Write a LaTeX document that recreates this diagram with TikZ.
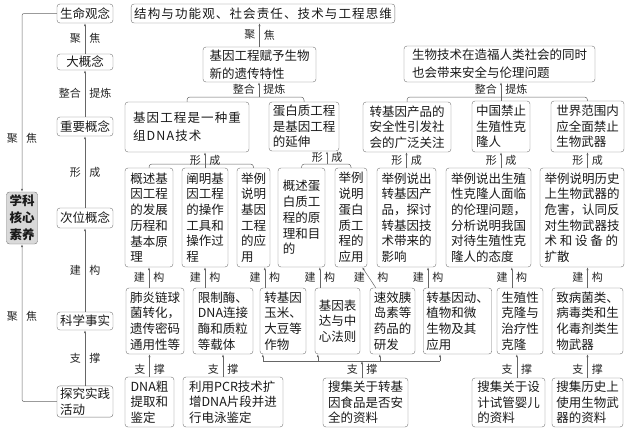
\documentclass[tikz,border=0pt]{standalone}
\usepackage{fontspec}
\setmainfont{Noto Sans CJK SC}
\usetikzlibrary{arrows.meta}

\begin{document}
\begin{tikzpicture}[x=1pt,y=-1pt,
  every node/.style={font=\fontsize{12.5}{15.7}\selectfont},
  box/.style={draw=black!55,rounded corners=3pt,align=left,inner xsep=3pt,inner ysep=2pt,text=black!90},
  big/.style={font=\fontsize{12.5}{18}\selectfont},
  wide/.style={font=\fontsize{12.5}{18}\selectfont\addfontfeature{LetterSpace=9}},
  lnk/.style={draw=black!60,line width=0.5pt},
  arr/.style={lnk,-{Latex[length=3pt,width=2.2pt]}},
  lab/.style={font=\fontsize{11}{11}\selectfont,inner sep=4pt,text=black!85},
]
\useasboundingbox (0,0) rectangle (627,434);

\node[box,minimum width=56pt,minimum height=19pt] (smgn) at (85,13.5) {生命观念};
\node[box,minimum width=56pt,minimum height=16pt] (dgn) at (85,62) {大概念};
\node[box,minimum width=56pt,minimum height=19pt] (zygn) at (85,126.5) {重要概念};
\node[box,minimum width=56pt,minimum height=20pt] (cwgn) at (85,218) {次位概念};
\node[box,minimum width=56pt,minimum height=18pt] (kxss) at (85,321) {科学事实};
\node[box,minimum width=56pt,minimum height=31pt] (tjsj) at (85,401.5) {探究实践\\活动};
\node[box,fill=black!15,minimum width=30pt,minimum height=52pt,align=center,font=\fontsize{12.5}{17}\selectfont\bfseries] (hxsy) at (22,218) {学科\\核心\\素养};

\node[box,wide,minimum width=260pt,minimum height=19pt,align=center] (jggn) at (263,13.5) {结构与功能观、社会责任、技术与工程思维};
\node[box,big,minimum width=113pt,minimum height=35pt] (fysx) at (259.5,64.5) {基因工程赋予生物\\新的遗传特性};
\node[box,big,minimum width=191pt,minimum height=36pt] (aqll) at (499.5,64) {生物技术在造福人类社会的同时\\也会带来安全与伦理问题};

\node[box,wide,minimum width=124pt,minimum height=50pt] (czdna) at (187,127) {基因工程是一种重\\组DNA技术};
\node[box,minimum width=70pt,minimum height=49pt] (dbzgc) at (304,126.5) {蛋白质工程\\是基因工程\\的延伸};
\node[box,minimum width=88pt,minimum height=50pt] (zjyaq) at (407,127) {转基因产品的\\安全性引发社\\会的广泛关注};
\node[box,minimum width=58pt,minimum height=51pt] (zgjz) at (501,126.5) {中国禁止\\生殖性克\\隆人};
\node[box,minimum width=73pt,minimum height=51pt] (sjjz) at (587.5,126.5) {世界范围内\\应全面禁止\\生物武器};

\node[box,minimum width=48pt,minimum height=99pt] (gsjy) at (149,217.5) {概述基\\因工程\\的发展\\历程和\\基本原\\理};
\node[box,minimum width=46pt,minimum height=99pt] (cmjy) at (205,217.5) {阐明基\\因工程\\的操作\\工具和\\操作过\\程};
\node[box,minimum width=33pt,minimum height=99pt] (jlsm) at (253.5,217.5) {举例\\说明\\基因\\工程\\的应\\用};
\node[box,minimum width=47pt,minimum height=99pt] (gsdb) at (301.5,217.5) {概述蛋\\白质工\\程的原\\理和目\\的};
\node[box,minimum width=32pt,minimum height=99pt] (jldb) at (351,217.5) {举例\\说明\\蛋白\\质工\\程的\\应用};
\node[box,minimum width=59pt,minimum height=99pt] (jlzj) at (406.5,217.5) {举例说出\\转基因产\\品，探讨\\转基因技\\术带来的\\影响};
\node[box,minimum width=85pt,minimum height=99pt] (jlsz) at (488.5,217.5) {举例说出生殖\\性克隆人面临\\的伦理问题，\\分析说明我国\\对待生殖性克\\隆人的态度};
\node[box,minimum width=84pt,minimum height=99pt] (jlls) at (582,217.5) {举例说明历史\\上生物武器的\\危害，认同反\\对生物武器技\\术 和 设 备 的\\扩散};

\node[box,minimum width=58pt,minimum height=66pt] (fyls) at (155,321) {肺炎链球\\菌转化，\\遗传密码\\通用性等};
\node[box,minimum width=60pt,minimum height=66pt] (xzm) at (223,321) {限制酶、\\DNA连接\\酶和质粒\\等载体};
\node[box,minimum width=46pt,minimum height=66pt] (zjym) at (283,321) {转基因\\玉米、\\大豆等\\作物};
\node[box,minimum width=45pt,minimum height=66pt] (jbbd) at (337.5,321) {基因表\\达与中\\心法则};
\node[box,minimum width=45pt,minimum height=66pt] (sxyd) at (392.5,321) {速效胰\\岛素等\\药品的\\研发};
\node[box,minimum width=65pt,minimum height=66pt] (zjdz) at (457.5,321) {转基因动、\\植物和微\\生物及其\\应用};
\node[box,minimum width=46pt,minimum height=66pt] (szkl) at (520,321) {生殖性\\克隆与\\治疗性\\克隆};
\node[box,minimum width=71pt,minimum height=66pt] (zbjl) at (587.5,321) {致病菌类、\\病毒类和生\\化毒剂类生\\物武器};

\node[box,minimum width=49pt,minimum height=50pt] (dnacq) at (149.5,402) {DNA粗\\提取和\\鉴定};
\node[box,minimum width=100pt,minimum height=50pt] (pcr) at (233,402) {利用PCR技术扩\\增DNA片段并进\\行电泳鉴定};
\node[box,minimum width=85pt,minimum height=49pt] (sjzj) at (365.5,402.5) {搜集关于转基\\因食品是否安\\全的资料};
\node[box,minimum width=73pt,minimum height=49pt] (sjsg) at (508.5,402.5) {搜集关于设\\计试管婴儿\\的资料};
\node[box,minimum width=71pt,minimum height=49pt] (sjls) at (587.5,402.5) {搜集历史上\\使用生物武\\器的资料};

\draw[arr] (dgn) -- node[lab,left]{聚} node[lab,right]{焦} (smgn);
\draw[arr] (zygn) -- node[lab,left]{整合} node[lab,right]{提炼} (dgn);
\draw[arr] (cwgn) -- node[lab,left]{形} node[lab,right]{成} (zygn);
\draw[arr] (kxss) -- node[lab,left]{建} node[lab,right]{构} (cwgn);
\draw[arr] (tjsj) -- node[lab,left]{支} node[lab,right]{撑} (kxss);
\draw[arr,rounded corners=2pt] (smgn.west) -| node[lab,pos=0.85,left]{聚} node[lab,pos=0.85,right]{焦} (hxsy.north);
\draw[arr,rounded corners=2pt] (tjsj.west) -| node[lab,pos=0.77,left]{聚} node[lab,pos=0.77,right]{焦} (hxsy.south);

\draw[arr] (fysx.north) -- node[lab,left]{聚} node[lab,right]{焦} (fysx.north |- jggn.south);
\coordinate (b1) at (259,97);
\draw[lnk,rounded corners=3pt] (czdna.north) |- (b1) -| (dbzgc.north);
\draw[arr] (b1) -- node[lab,left]{整合} node[lab,right]{提炼} (b1 |- fysx.south);
\draw[lnk,rounded corners=3pt] (zjyaq.north) |- (zgjz.north |- b1) -| (sjjz.north);
\draw[arr] (zgjz.north) -- node[lab,left,pos=0.6]{整合} node[lab,right,pos=0.6]{提炼} (zgjz.north |- aqll.south);

\coordinate (b3) at (205,164);
\draw[lnk,rounded corners=3pt] (gsjy.north) |- (b3) -| (jlsm.north);
\draw[arr] (cmjy.north) -- node[lab,left]{形} node[lab,right]{成} (cmjy.north |- czdna.south);
\coordinate (b4) at (327,164);
\draw[lnk,rounded corners=3pt] (gsdb.north) |- (b4) -| (jldb.north);
\draw[arr] (b4) -- node[lab,left]{形} node[lab,right]{成} (b4 |- dbzgc.south);
\draw[arr] (jlzj.north) -- node[lab,left]{形} node[lab,right]{成} (jlzj.north |- zjyaq.south);
\draw[arr] (zgjz.south |- jlsz.north) -- node[lab,left]{形} node[lab,right]{成} (zgjz.south);
\draw[arr] (sjjz.south |- jlls.north) -- node[lab,left]{形} node[lab,right]{成} (sjjz.south);

\coordinate (c1) at ([xshift=5pt]zjym.north west);
\coordinate (c2) at ([xshift=5pt]jbbd.north west);
\coordinate (c3) at ([xshift=5pt]zjdz.north west);
\coordinate (c4) at ([xshift=15pt]szkl.north west);
\draw[arr] (gsjy.south |- fyls.north) -- node[lab,left]{建} node[lab,right]{构} (gsjy.south);
\draw[arr] (cmjy.south |- xzm.north) -- node[lab,left]{建} node[lab,right]{构} (cmjy.south);
\draw[arr] (c1) -- node[lab,left]{建} node[lab,right]{构} (c1 |- jlsm.south);
\draw[arr] (c2) -- node[lab,left]{建} node[lab,right]{构} (c2 |- gsdb.south);
\draw[arr] ([xshift=6pt]sxyd.north west) -- node[lab,left]{建} node[lab,right,xshift=4pt]{构} ([xshift=-5pt]jldb.south east);
\draw[arr] (c3) -- node[lab,left]{建} node[lab,right]{构} (c3 |- jlzj.south);
\draw[arr] (c4) -- node[lab,left]{建} node[lab,right]{构} (c4 |- jlsz.south);
\draw[arr] (zbjl.north) -- node[lab,left]{建} node[lab,right]{构} (zbjl.north |- jlls.south);

\coordinate (hub) at (362,361);
\coordinate (t1) at ([xshift=3pt]zjym.south west);
\coordinate (t2) at ([xshift=3pt]jbbd.south west);
\coordinate (t3) at ([xshift=10pt]sxyd.south west);
\coordinate (t4) at ([xshift=17pt]zjdz.south west);
\draw[lnk] (t1 |- hub) -- (t4 |- hub);
\foreach \t in {t1,t2,t3,t4} \draw[arr] (\t |- hub) -- (\t);
\draw[arr] (sjzj.north -| hub) -- node[lab,left]{支} node[lab,right]{撑} (hub);
\coordinate (c5) at ([xshift=20pt]szkl.south west);
\draw[arr] (dnacq.north) -- node[lab,left,pos=0.35]{支} node[lab,right,pos=0.35]{撑} (dnacq.north |- fyls.south);
\draw[arr] (xzm.south |- pcr.north) -- node[lab,left,pos=0.35]{支} node[lab,right,pos=0.35]{撑} (xzm.south);
\draw[arr] (c5 |- sjsg.north) -- node[lab,left,pos=0.35]{支} node[lab,right,pos=0.35]{撑} (c5);
\draw[arr] (sjls.north) -- node[lab,left,pos=0.35]{支} node[lab,right,pos=0.35]{撑} (sjls.north |- zbjl.south);
\end{tikzpicture}
\end{document}
